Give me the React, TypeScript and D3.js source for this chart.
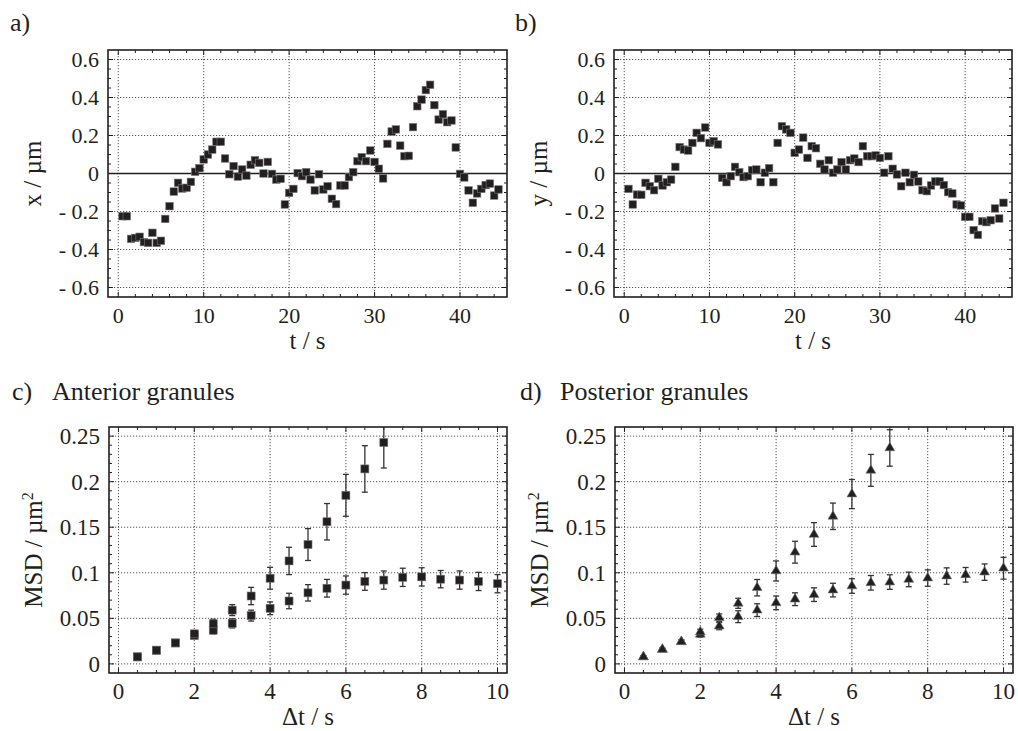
import React from "react";
import * as d3 from "d3";

// sampling times of the tracks (s)
const times = [
  0.5, 1, 1.5, 2, 2.5, 3, 3.5, 4, 4.5, 5, 5.5, 6, 6.5, 7, 7.5, 8, 8.5, 9, 9.5, 10,
  10.5, 11, 11.5, 12, 12.5, 13, 13.5, 14, 14.5, 15, 15.5, 16, 16.5, 17, 17.5, 18, 18.5, 19, 19.5, 20,
  20.5, 21, 21.5, 22, 22.5, 23, 23.5, 24, 24.5, 25, 25.5, 26, 26.5, 27, 27.5, 28, 28.5, 29, 29.5, 30,
  30.5, 31, 31.5, 32, 32.5, 33, 33.5, 34, 34.5, 35, 35.5, 36, 36.5, 37, 37.5, 38, 38.5, 39, 39.5, 40,
  40.5, 41, 41.5, 42, 42.5, 43, 43.5, 44, 44.5,
];

const xDisp = [
  -0.225, -0.225, -0.344, -0.339, -0.333, -0.361, -0.365, -0.312, -0.365, -0.354,
  -0.239, -0.172, -0.095, -0.049, -0.079, -0.075, -0.044, 0.009, 0.028, 0.074,
  0.1, 0.126, 0.167, 0.167, 0.079, -0.004, 0.039, -0.016, 0.021, -0.011,
  0.046, 0.07, 0.056, 0, 0.061, -0.002, -0.032, -0.028, -0.163, -0.102,
  -0.081, 0.002, -0.014, 0.007, -0.032, -0.089, -0.004, -0.084, -0.067, -0.133,
  -0.161, -0.063, -0.063, -0.019, 0.007, 0.065, 0.086, 0.065, 0.121, 0.061,
  0.025, -0.026, 0.156, 0.221, 0.232, 0.147, 0.091, 0.093, 0.244, 0.354,
  0.389, 0.439, 0.467, 0.36, 0.284, 0.312, 0.27, 0.279, 0.137, -0.002,
  -0.021, -0.089, -0.154, -0.105, -0.081, -0.061, -0.053, -0.116, -0.084,
];

const yDisp = [
  -0.081, -0.163, -0.111, -0.112, -0.049, -0.067, -0.088, -0.028, -0.063, -0.046,
  -0.032, 0.035, 0.139, 0.126, 0.121, 0.161, 0.214, 0.186, 0.242, 0.161,
  0.17, 0.153, -0.023, -0.046, -0.014, 0.035, 0.007, -0.019, -0.014, 0.018,
  0.021, -0.046, 0.004, 0.028, -0.046, 0.161, 0.249, 0.232, 0.214, 0.109,
  0.126, 0.189, 0.082, 0.144, 0.133, 0.051, 0.021, 0.07, 0.004, 0.021,
  0.06, 0.021, 0.07, 0.079, 0.06, 0.144, 0.091, 0.091, 0.095, 0.082,
  0.004, 0.091, 0.025, -0.005, -0.067, 0.004, -0.046, -0.007, -0.042, -0.088,
  -0.093, -0.063, -0.042, -0.042, -0.061, -0.098, -0.105, -0.163, -0.168, -0.228,
  -0.228, -0.298, -0.323, -0.251, -0.256, -0.246, -0.184, -0.237, -0.154,
];

// lag times for MSD (s)
const lags = [0.5, 1, 1.5, 2, 2.5, 3, 3.5, 4, 4.5, 5, 5.5, 6, 6.5, 7, 7.5, 8, 8.5, 9, 9.5, 10];

const antFast = [0.0077, 0.015, 0.023, 0.033, 0.044, 0.059, 0.0745, 0.094, 0.113, 0.131, 0.156, 0.185, 0.214, 0.243];
const antFastErr = [0.001, 0.0015, 0.002, 0.003, 0.005, 0.006, 0.0095, 0.012, 0.015, 0.0175, 0.02, 0.023, 0.0255, 0.028];
const antSlow = [0.0077, 0.015, 0.023, 0.031, 0.037, 0.0445, 0.053, 0.061, 0.069, 0.078, 0.083, 0.0865, 0.0905, 0.092, 0.095, 0.0955, 0.093, 0.092, 0.0905, 0.088];
const antSlowErr = [0.001, 0.0015, 0.002, 0.003, 0.004, 0.005, 0.006, 0.007, 0.0085, 0.009, 0.0097, 0.01, 0.0097, 0.01, 0.01, 0.01, 0.0095, 0.01, 0.01, 0.01];

const postFast = [0.0077, 0.0158, 0.0243, 0.035, 0.0507, 0.0665, 0.0836, 0.102, 0.1226, 0.142, 0.162, 0.1864, 0.2124, 0.237];
const postFastErr = [0.001, 0.0015, 0.002, 0.003, 0.004, 0.0055, 0.009, 0.011, 0.012, 0.013, 0.0145, 0.016, 0.0175, 0.02];
const postSlow = [0.0077, 0.0158, 0.0243, 0.0324, 0.0415, 0.0518, 0.059, 0.067, 0.071, 0.076, 0.081, 0.0855, 0.089, 0.0898, 0.0927, 0.0942, 0.0964, 0.0978, 0.1007, 0.105];
const postSlowErr = [0.001, 0.0015, 0.002, 0.003, 0.004, 0.0065, 0.007, 0.0075, 0.007, 0.0075, 0.0075, 0.008, 0.008, 0.008, 0.008, 0.009, 0.009, 0.008, 0.009, 0.012];

const trackTicks = [-0.6, -0.4, -0.2, 0, 0.2, 0.4, 0.6];
const trackTickLabels = ["- 0.6", "- 0.4", "- 0.2", "0", "0.2", "0.4", "0.6"];
const timeTicks = [0, 10, 20, 30, 40];
const lagTicks = [0, 2, 4, 6, 8, 10];
const msdTicks = [0, 0.05, 0.1, 0.15, 0.2, 0.25];
const msdTickLabels = ["0", "0.05", "0.1", "0.15", "0.2", "0.25"];

const FONT = "Liberation Serif, Times New Roman, Times, DejaVu Serif, serif";
const INK = "#231f20";

type Box = { left: number; top: number; right: number; bottom: number };

function Axes(props: {
  id: string;
  box: Box;
  x: d3.ScaleLinear<number, number>;
  y: d3.ScaleLinear<number, number>;
  xTicks: number[];
  xMinor: number[];
  yTicks: number[];
  yMinor: number[];
  yLabels: string[];
  tickSize: number;
  xTitle: React.ReactNode;
  yTitle: React.ReactNode;
  zeroLine?: boolean;
  children?: React.ReactNode;
}) {
  const { box, x, y } = props;
  const grid = "#555";
  return (
    <g>
      <defs>
        <clipPath id={props.id}>
          <rect x={box.left} y={box.top} width={box.right - box.left} height={box.bottom - box.top} />
        </clipPath>
      </defs>
      {props.xTicks.map((t) => (
        <line key={"gx" + t} x1={x(t)} x2={x(t)} y1={box.top} y2={box.bottom} stroke={grid} strokeWidth={1} strokeDasharray="1.2 1.8" />
      ))}
      {props.yTicks.map((t) => (
        <line key={"gy" + t} x1={box.left} x2={box.right} y1={y(t)} y2={y(t)} stroke={grid} strokeWidth={1} strokeDasharray="1.2 1.8" />
      ))}
      {props.zeroLine && (
        <line x1={box.left} x2={box.right} y1={y(0)} y2={y(0)} stroke={INK} strokeWidth={1.3} />
      )}
      {props.xMinor.map((t) => {
        const len = props.xTicks.includes(t) ? 5 : 3;
        return (
          <g key={"mx" + t}>
            <line x1={x(t)} x2={x(t)} y1={box.bottom} y2={box.bottom - len} stroke={INK} strokeWidth={1} />
            <line x1={x(t)} x2={x(t)} y1={box.top} y2={box.top + len} stroke={INK} strokeWidth={1} />
          </g>
        );
      })}
      {props.yMinor.map((t) => {
        const len = props.yTicks.some((m) => Math.abs(m - t) < 1e-9) ? 5 : 3;
        return (
          <g key={"my" + t}>
            <line x1={box.left} x2={box.left + len} y1={y(t)} y2={y(t)} stroke={INK} strokeWidth={1} />
            <line x1={box.right} x2={box.right - len} y1={y(t)} y2={y(t)} stroke={INK} strokeWidth={1} />
          </g>
        );
      })}
      <g clipPath={`url(#${props.id})`}>{props.children}</g>
      <rect x={box.left} y={box.top} width={box.right - box.left} height={box.bottom - box.top} fill="none" stroke={INK} strokeWidth={1.6} />
      {props.xTicks.map((t) => (
        <text key={"lx" + t} x={x(t)} y={box.bottom + 26} textAnchor="middle" fontSize={props.tickSize} style={{ fontFamily: FONT }} fill={INK}>
          {t}
        </text>
      ))}
      {props.yTicks.map((t, i) => (
        <text key={"ly" + t} x={box.left - 9} y={y(t)} dy="0.35em" textAnchor="end" fontSize={props.tickSize} style={{ fontFamily: FONT }} fill={INK}>
          {props.yLabels[i]}
        </text>
      ))}
      <text x={(box.left + box.right) / 2} y={box.bottom + 52} textAnchor="middle" fontSize={25} style={{ fontFamily: FONT }} fill={INK}>
        {props.xTitle}
      </text>
      <text
        transform={`translate(${box.left - 76},${(box.top + box.bottom) / 2}) rotate(-90)`}
        dy="0.35em"
        textAnchor="middle"
        fontSize={25}
        style={{ fontFamily: FONT }}
        fill={INK}
      >
        {props.yTitle}
      </text>
    </g>
  );
}

function Squares({ xs, ys, x, y, size }: { xs: number[]; ys: number[]; x: any; y: any; size: number }) {
  return (
    <g>
      {ys.map((v, i) => (
        <rect key={i} x={x(xs[i]) - size / 2} y={y(v) - size / 2} width={size} height={size} fill={INK} stroke="#777" strokeWidth={0.6} />
      ))}
    </g>
  );
}

function ErrorBars({ xs, ys, es, x, y }: { xs: number[]; ys: number[]; es: number[]; x: any; y: any }) {
  return (
    <g stroke="#333" strokeWidth={1.3}>
      {ys.map((v, i) => {
        const cx = x(xs[i]);
        const y1 = y(v + es[i]);
        const y2 = y(v - es[i]);
        return (
          <g key={i}>
            <line x1={cx} x2={cx} y1={y1} y2={y2} />
            <line x1={cx - 3} x2={cx + 3} y1={y1} y2={y1} />
            <line x1={cx - 3} x2={cx + 3} y1={y2} y2={y2} />
          </g>
        );
      })}
    </g>
  );
}

function Triangles({ xs, ys, x, y }: { xs: number[]; ys: number[]; x: any; y: any }) {
  const path = d3.symbol(d3.symbolTriangle, 42)() as string;
  return (
    <g>
      {ys.map((v, i) => (
        <path key={i} d={path} transform={`translate(${x(xs[i])},${y(v)})`} fill={INK} stroke="#777" strokeWidth={0.6} />
      ))}
    </g>
  );
}

export default function App() {
  const boxA: Box = { left: 108, top: 50, right: 507, bottom: 297 };
  const boxB: Box = { left: 614, top: 50, right: 1012, bottom: 297 };
  const boxC: Box = { left: 109, top: 427, right: 507, bottom: 673 };
  const boxD: Box = { left: 615, top: 427, right: 1013, bottom: 673 };

  const tx = (b: Box) => d3.scaleLinear().domain([-1.2, 45.5]).range([b.left, b.right]);
  const ty = (b: Box) => d3.scaleLinear().domain([-0.65, 0.65]).range([b.bottom, b.top]);
  const lx = (b: Box) => d3.scaleLinear().domain([-0.25, 10.25]).range([b.left, b.right]);
  const my = (b: Box) => d3.scaleLinear().domain([-0.01, 0.26]).range([b.bottom, b.top]);

  const xA = tx(boxA), yA = ty(boxA), xB = tx(boxB), yB = ty(boxB);
  const xC = lx(boxC), yC = my(boxC), xD = lx(boxD), yD = my(boxD);

  const timeMinor = d3.range(0, 46, 2);
  const trackMinor = d3.range(-12, 13).map((k) => k * 0.05);
  const lagMinor = d3.range(0, 21).map((k) => k * 0.5);
  const msdMinor = d3.range(0, 26).map((k) => k * 0.01);

  const mu = "\u00b5m";
  const msdTitle = (
    <>
      MSD / {mu}
      <tspan dy="-9" fontSize={16}>2</tspan>
    </>
  );

  const lagsFast = lags.slice(0, antFast.length);

  return (
    <svg width={1018} height={731} style={{ position: "absolute", left: 0, top: 0, background: "#fff" }}>
      <rect width={1018} height={731} fill="#fff" />
      <g style={{ fontFamily: FONT }} fill={INK} fontSize={26}>
        <text x={10} y={31}>a)</text>
        <text x={515} y={31}>b)</text>
        <text x={12} y={400}>c)</text>
        <text x={52} y={400}>Anterior granules</text>
        <text x={520} y={400}>d)</text>
        <text x={560} y={400}>Posterior granules</text>
      </g>

      <Axes id="clipA" box={boxA} x={xA} y={yA} xTicks={timeTicks} xMinor={timeMinor} yTicks={trackTicks} yMinor={trackMinor}
        yLabels={trackTickLabels} tickSize={22} xTitle="t / s" yTitle={`x / ${mu}`} zeroLine>
        <Squares xs={times} ys={xDisp} x={xA} y={yA} size={7.5} />
      </Axes>

      <Axes id="clipB" box={boxB} x={xB} y={yB} xTicks={timeTicks} xMinor={timeMinor} yTicks={trackTicks} yMinor={trackMinor}
        yLabels={trackTickLabels} tickSize={22} xTitle="t / s" yTitle={`y / ${mu}`} zeroLine>
        <Squares xs={times} ys={yDisp} x={xB} y={yB} size={7.5} />
      </Axes>

      <Axes id="clipC" box={boxC} x={xC} y={yC} xTicks={lagTicks} xMinor={lagMinor} yTicks={msdTicks} yMinor={msdMinor}
        yLabels={msdTickLabels} tickSize={23} xTitle={"\u0394t / s"} yTitle={msdTitle}>
        <ErrorBars xs={lags} ys={antSlow} es={antSlowErr} x={xC} y={yC} />
        <ErrorBars xs={lagsFast} ys={antFast} es={antFastErr} x={xC} y={yC} />
        <Squares xs={lags} ys={antSlow} x={xC} y={yC} size={8} />
        <Squares xs={lagsFast} ys={antFast} x={xC} y={yC} size={8} />
      </Axes>

      <Axes id="clipD" box={boxD} x={xD} y={yD} xTicks={lagTicks} xMinor={lagMinor} yTicks={msdTicks} yMinor={msdMinor}
        yLabels={msdTickLabels} tickSize={23} xTitle={"\u0394t / s"} yTitle={msdTitle}>
        <ErrorBars xs={lags} ys={postSlow} es={postSlowErr} x={xD} y={yD} />
        <ErrorBars xs={lagsFast} ys={postFast} es={postFastErr} x={xD} y={yD} />
        <Triangles xs={lags} ys={postSlow} x={xD} y={yD} />
        <Triangles xs={lagsFast} ys={postFast} x={xD} y={yD} />
      </Axes>
    </svg>
  );
}
